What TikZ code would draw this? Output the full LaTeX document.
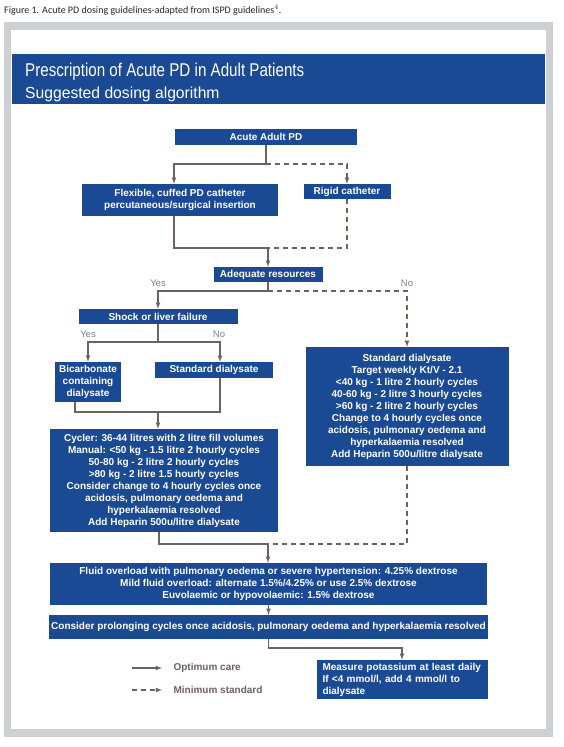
\documentclass[tikz,border=0pt]{standalone}
\usepackage{fontspec}
\setmainfont{Liberation Sans}
\newfontfamily\capfont{Carlito}
\newfontfamily\titlefont[FakeStretch=0.82]{Liberation Sans}
\newfontfamily\subtitlefont[FakeStretch=0.98]{Liberation Sans}

\definecolor{boxblue}{RGB}{27,74,148}
\definecolor{linegray}{RGB}{110,98,94}
\definecolor{framegray}{RGB}{206,209,211}

\begin{document}
\begin{tikzpicture}
	[
		x=1pt, y=-1pt,
		font=\fontsize{10}{12}\selectfont\bfseries,
		flow/.style={draw=linegray, line width=1.1pt},
		arrow/.style={flow, -latex},
		dashline/.style={flow, dash pattern=on 5pt off 4pt},
		dasharrow/.style={arrow, dash pattern=on 5pt off 4pt}
	]
	
	\tikzstyle{Box} = [
		rectangle,
		inner sep=2pt,
		align=center,
		text=white,
		fill=boxblue
	]
	\tikzstyle{Answer} = [
		text=black!50,
		font=\fontsize{9.5}{11}\selectfont
	]
	\tikzstyle{Key} = [
		anchor=west,
		text=linegray
	]
	
	% page, frame and banner
	\useasboundingbox (0,0) rectangle (564,747);
	\fill [framegray] (4,22) rectangle (553,737);
	\fill [white] (11,30) rectangle (546,729);
	\fill [boxblue] (12,54) rectangle (545,104);
	
	\node [anchor=base west, inner sep=0pt, font=\capfont\fontsize{10}{12}\selectfont, text=black!85] (caption) at (4,13)
		{Figure 1. Acute PD dosing guidelines-adapted from ISPD guidelines$^{4}$.};
	\node [anchor=base west, inner sep=0pt, text=white, font=\titlefont\fontsize{18.5}{20}\selectfont] (title) at (25,76)
		{Prescription of Acute PD in Adult Patients};
	\node [anchor=base west, inner sep=0pt, text=white, font=\subtitlefont\fontsize{16}{18}\selectfont] (subtitle) at (25,98)
		{Suggested dosing algorithm};
	
	% boxes
	\node [Box, minimum width=182pt, minimum height=16pt] (adult) at (266,137) {Acute Adult PD};
	\node [Box, minimum width=196pt, minimum height=32pt] (flexible) at (180,200)
		{Flexible, cuffed PD catheter\\percutaneous/surgical insertion};
	\node [Box, minimum width=87pt, minimum height=15pt] (rigid) at (347,191.5) {Rigid catheter};
	\node [Box, minimum width=109pt, minimum height=15pt] (resources) at (268,274.5) {Adequate resources};
	\node [Box, minimum width=159pt, minimum height=15pt] (shock) at (158,316.5) {Shock or liver failure};
	\node [Box, minimum width=66pt, minimum height=40pt] (bicarb) at (88,382)
		{Bicarbonate\\containing\\dialysate};
	\node [Box, minimum width=118pt, minimum height=16pt] (standard) at (214,370) {Standard dialysate};
	\node [Box, minimum width=203pt, minimum height=119pt] (manual) at (407,406.5)
		{Standard dialysate\\
		Target weekly Kt/V - 2.1\\
		<40 kg - 1 litre 2 hourly cycles\\
		40-60 kg - 2 litre 3 hourly cycles\\
		>60 kg - 2 litre 2 hourly cycles\\
		Change to 4 hourly cycles once\\
		acidosis, pulmonary oedema and\\
		hyperkalaemia resolved\\
		Add Heparin 500u/litre dialysate};
	\node [Box, minimum width=228pt, minimum height=103pt] (cycler) at (164,480.5)
		{Cycler: 36-44 litres with 2 litre fill volumes\\
		Manual: <50 kg - 1.5 litre 2 hourly cycles\\
		50-80 kg - 2 litre 2 hourly cycles\\
		>80 kg - 2 litre 1.5 hourly cycles\\
		Consider change to 4 hourly cycles once\\
		acidosis, pulmonary oedema and\\
		hyperkalaemia resolved\\
		Add Heparin 500u/litre dialysate};
	\node [Box, minimum width=437pt, minimum height=42pt] (fluid) at (268.5,584)
		{Fluid overload with pulmonary oedema or severe hypertension: 4.25\% dextrose\\
		Mild fluid overload: alternate 1.5\%/4.25\% or use 2.5\% dextrose\\
		Euvolaemic or hypovolaemic: 1.5\% dextrose};
	\node [Box, minimum width=437pt, minimum height=24pt] (prolong) at (268.5,627)
		{Consider prolonging cycles once acidosis, pulmonary oedema and hyperkalaemia resolved};
	\node [Box, minimum height=39pt, text width=159pt, inner xsep=6pt, align=left] (measure) at (402,679.5)
		{Measure potassium at least daily\\
		If <4 mmol/l, add 4 mmol/l to\\
		dialysate};
	
	% answers
	\node [Answer] (yes1) at (158,283) {Yes};
	\node [Answer] (no1) at (407,283) {No};
	\node [Answer] (yes2) at (88,334) {Yes};
	\node [Answer] (no2) at (219,334) {No};
	
	% connectors
	\coordinate (split) at (266,164);
	\draw [arrow] (adult.south) -- (split) -| ([xshift=-6pt]flexible.north);
	\draw [dasharrow] (split) -| (rigid.north);
	
	\coordinate (merge) at (268,248);
	\draw [flow] ([xshift=-6pt]flexible.south) |- (merge);
	\draw [dashline] (rigid.south) |- (merge);
	\draw [arrow] (merge) -- (resources.north);
	
	\coordinate (choice) at (268,291);
	\draw [flow] (resources.south) -- (choice);
	\draw [arrow] (choice) -| (shock.north);
	\draw [dasharrow] (choice) -| (manual.north);
	
	\coordinate (fork) at (158,342);
	\draw [flow] (shock.south) -- (fork);
	\draw [arrow] (fork) -| (bicarb.north);
	\draw [arrow] (fork) -| ([xshift=6pt]standard.north);
	
	\coordinate (join) at (158,412);
	\draw [flow] ([xshift=-13pt]bicarb.south) |- (join) -| ([xshift=6pt]standard.south);
	\draw [arrow] (join) -- (join |- cycler.north);
	
	\coordinate (rejoin) at (268,544);
	\draw [flow] ([xshift=-5pt]cycler.south) |- (rejoin);
	\draw [dashline] (manual.south) |- (rejoin);
	\draw [arrow] (rejoin) -- (rejoin |- fluid.north);
	\draw [arrow] (fluid) -- (prolong);
	
	\coordinate (bend) at (268.5,648);
	\draw [arrow] (prolong.south) -- (bend) -| (measure.north);
	
	% legend
	\coordinate (solidA) at (132,668);
	\coordinate (solidB) at (162,668);
	\coordinate (dashA) at (132,690);
	\coordinate (dashB) at (162,690);
	\draw [arrow] (solidA) -- (solidB);
	\draw [dasharrow] (dashA) -- (dashB);
	\node [Key] (optimum) at (170,668) {Optimum care};
	\node [Key] (minimum) at (170,690) {Minimum standard};
\end{tikzpicture}
\end{document}
